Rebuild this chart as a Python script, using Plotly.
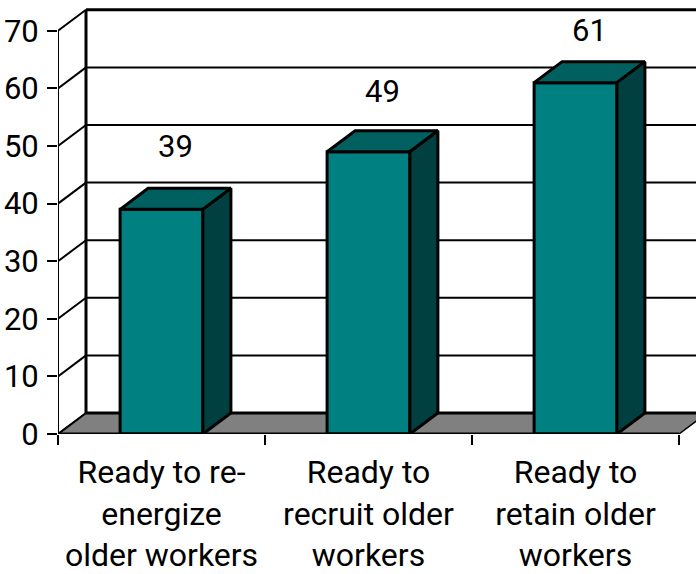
import plotly.graph_objects as go

categories = ["Ready to re-<br>energize<br>older workers", "Ready to<br>recruit older<br>workers", "Ready to<br>retain older<br>workers"]
values = [39, 49, 61]
label_gaps = [10.5, 10, 8.5]
y_ticks = [0, 10, 20, 30, 40, 50, 60, 70]

FONT = "Roboto, Liberation Sans, sans-serif"
FS = 32
NUM_FS = 31
BAR_W = 0.4
DX = 28 / 207          # depth offset in category units
DY = 21 / 5.76         # depth offset in value units
xs = list(range(len(values)))
X0, X1 = -0.5, 2.5
XMAX = X0 + 638 / 207
YMAX = 434 / 5.76

fig = go.Figure()

shapes = []
# floor
shapes.append(dict(type="path", layer="below", xref="x", yref="y",
                   path=f"M {X0} 0 L {X0+DX} {DY} L {X1+DX} {DY} L {X1} 0 Z",
                   fillcolor="#808080", line=dict(color="black", width=1.5)))
shapes.append(dict(type="line", layer="below", x0=X0+DX, x1=XMAX, y0=DY, y1=DY,
                   line=dict(color="black", width=3)))
# back wall gridlines and side wall
for t in y_ticks[1:]:
    shapes.append(dict(type="line", layer="below", x0=X0+DX, x1=XMAX, y0=t+DY, y1=t+DY,
                       line=dict(color="black", width=3 if t == 70 else 2)))
    shapes.append(dict(type="line", layer="below", x0=X0, x1=X0+DX, y0=t, y1=t+DY,
                       line=dict(color="black", width=2)))
shapes.append(dict(type="line", layer="below", x0=X0+DX, x1=X0+DX, y0=DY, y1=70+DY,
                   line=dict(color="black", width=3)))

# front faces
fig.add_trace(go.Bar(x=xs, y=values, width=BAR_W, marker=dict(color="#008080", line=dict(color="black", width=3)),
                     showlegend=False, hoverinfo="skip"))

# top and side faces
for x, v in zip(xs, values):
    l, r = x - BAR_W / 2, x + BAR_W / 2
    fig.add_trace(go.Scatter(x=[l, l+DX, r+DX, r, l], y=[v, v+DY, v+DY, v, v], mode="lines", fill="toself",
                             fillcolor="#006060", line=dict(color="black", width=3), showlegend=False, hoverinfo="skip"))
    fig.add_trace(go.Scatter(x=[r, r+DX, r+DX, r, r], y=[0, DY, v+DY, v, 0], mode="lines", fill="toself",
                             fillcolor="#004040", line=dict(color="black", width=3), showlegend=False, hoverinfo="skip"))

# front axis lines
fig.add_trace(go.Scatter(x=[X0, X0], y=[0, 70], mode="lines", cliponaxis=False,
                         line=dict(color="black", width=2), showlegend=False, hoverinfo="skip"))
fig.add_trace(go.Scatter(x=[X0, X1], y=[0, 0], mode="lines", cliponaxis=False,
                         line=dict(color="black", width=3), showlegend=False, hoverinfo="skip"))
fig.add_trace(go.Scatter(x=[X0, X0+DX], y=[0, DY], mode="lines", cliponaxis=False,
                         line=dict(color="black", width=2), showlegend=False, hoverinfo="skip"))

# data labels
fig.add_trace(go.Scatter(x=[x + DX / 2 for x in xs], y=[v + g for v, g in zip(values, label_gaps)], mode="text",
                         text=[str(v) for v in values], textposition="middle center", cliponaxis=False,
                         textfont=dict(family=FONT, size=NUM_FS, color="black"), showlegend=False, hoverinfo="skip"))

fig.update_layout(
    width=696, height=574, margin=dict(l=58, r=0, t=0, b=140, autoexpand=False),
    paper_bgcolor="white", plot_bgcolor="white", shapes=shapes, showlegend=False,
    font=dict(family=FONT, size=FS, color="black"),
    xaxis=dict(range=[X0, XMAX], tickmode="array", tickvals=xs, ticktext=categories, ticks="",
               showgrid=False, zeroline=False, showline=False, ticklabelstandoff=16,
               minor=dict(tickmode="array", tickvals=[-0.5, 0.5, 1.5, 2.5], ticks="outside", ticklen=10, tickwidth=2,
                          tickcolor="black", showgrid=False),
               tickfont=dict(family=FONT, size=FS, color="black")),
    yaxis=dict(range=[0, YMAX], tickmode="array", tickvals=y_ticks, ticks="outside", ticklen=10, tickwidth=2,
               tickcolor="black", showgrid=False, zeroline=False, showline=False, ticklabelstandoff=2,
               tickfont=dict(family=FONT, size=NUM_FS, color="black")),
)
fig.write_html("out.html", config={"displayModeBar": False},
               post_script="document.body.style.margin='0';document.body.style.overflow='hidden';")
